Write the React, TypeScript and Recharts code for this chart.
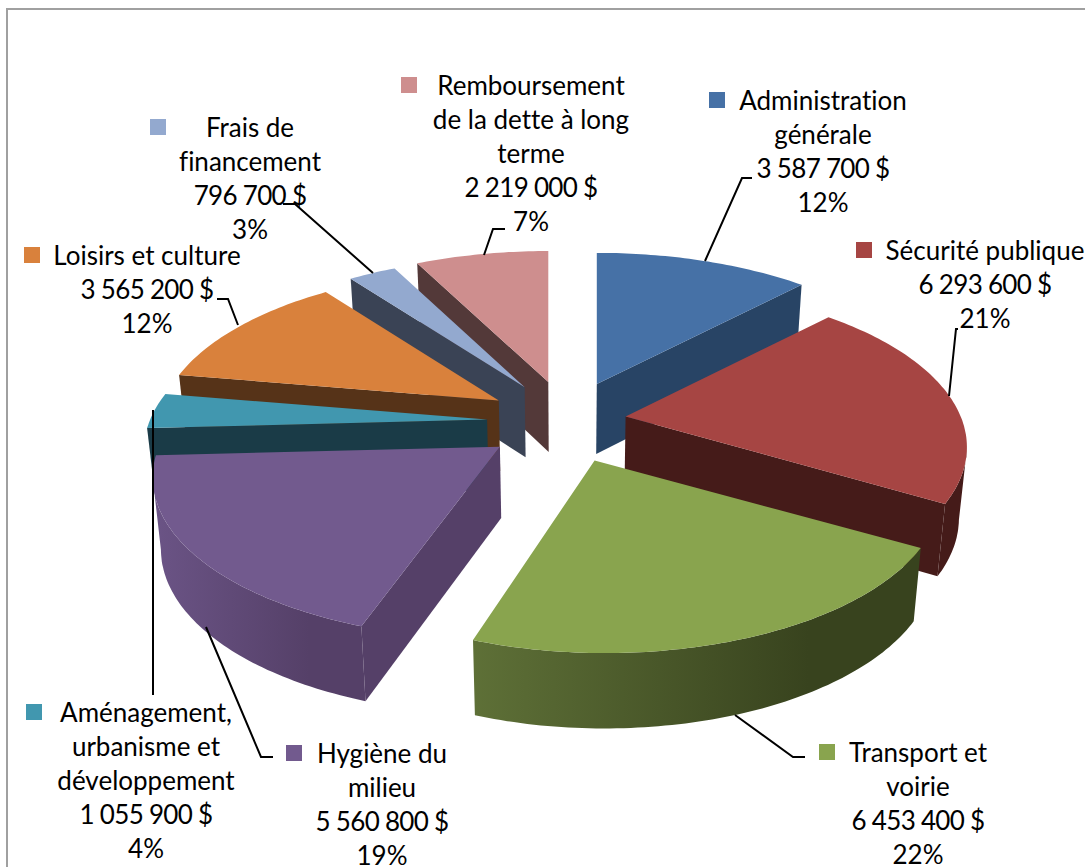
import { PieChart, Pie } from "recharts";

const categories = [
  "Administration générale",
  "Sécurité publique",
  "Transport et voirie",
  "Hygiène du milieu",
  "Aménagement, urbanisme et développement",
  "Loisirs et culture",
  "Frais de financement",
  "Remboursement de la dette à long terme",
];
const amounts = [3587700, 6293600, 6453400, 5560800, 1055900, 3565200, 796700, 2219000];
const percents = [12, 21, 22, 19, 4, 12, 3, 7];

const data = categories.map((name, i) => ({ name, value: amounts[i] }));

// back to front, so nearer slices cover the ones behind
const paintOrder = [7, 0, 6, 5, 1, 4, 3, 2];

const topColors = ["#4671A6", "#A64543", "#89A44E", "#725A8E", "#4197AF", "#D9813C", "#93A9CF", "#CE8E8E"];
const wallColors = ["#284465", "#451B19", "#38431E", "#554068", "#1A3B47", "#563318", "#3A4355", "#533939"];
const rimFrom = ["#284465", "#451B19", "#5E7037", "#6B5486", "#1A3B47", "#563318", "#3A4355", "#533939"];
const explodeX = [1, 0.74, 1, 1.05, 1, 1, 1, 1];
const rimShift = [0, -2, 10.5, -4, 0, 2, 1, 0];
const rimScale = [1, 1, 0.982, 1, 1, 1, 1, 1];

const wrapped = [
  ["Administration", "générale"],
  ["Sécurité publique"],
  ["Transport et", "voirie"],
  ["Hygiène du", "milieu"],
  ["Aménagement,", "urbanisme et", "développement"],
  ["Loisirs et culture"],
  ["Frais de", "financement"],
  ["Remboursement", "de la dette à long", "terme"],
];
// label centre x, first baseline y, swatch left x
const labelBoxes = [
  [823, 110, 709],
  [985, 260, 856],
  [918, 762, 819],
  [382, 763, 286],
  [146, 722, 26],
  [147, 265, 24],
  [250, 137, 150],
  [531, 95, 401],
];
const leaders = [
  "752,178 742,178 705,261",
  "958,329 956,329 949,396",
  "805,757 793,757 735,715",
  "273,757 261,757 206,627",
  "153,695 153,410",
  "217,299 228,299 238,325",
  "283,204 295,204 373,273",
  "505,229 493,229 484,255",
];

const CX = 567;
const CY = 422;
const RX = 337;
const RY = 156;
const PERSPECTIVE = 0.19;
const EXPLODE_Y = 41;
const LINE = 34;
const RAD = Math.PI / 180;

type P = { x: number; y: number };

function rimPoint(theta: number, c: P, rx: number, shift: number): P {
  const u = -Math.cos(theta * RAD);
  const d = 1 - PERSPECTIVE * u;
  return { x: c.x + shift + (rx * Math.sin(theta * RAD)) / d, y: c.y + (RY * u) / d };
}

// the underside of a point, pushed down by the pie's thickness
const lower = (p: P): P => ({ x: CX + (p.x - CX) * 0.98, y: p.y + 70 + (p.y - 384) * 0.02 });
const toPath = (pts: P[]) => "M" + pts.map((p) => `${p.x.toFixed(1)},${p.y.toFixed(1)}`).join("L") + "Z";

function Slice(props: any) {
  const i = categories.indexOf(props.name);
  const { cx, outerRadius } = props;
  // recharts angles run anticlockwise from east, here clockwise from north
  const t1 = 90 - props.startAngle;
  const t2 = 90 - props.endAngle;
  const mid = (t1 + t2) / 2;
  const apex = {
    x: cx + 80 * explodeX[i] * Math.sin(mid * RAD),
    y: props.cy - EXPLODE_Y * Math.cos(mid * RAD),
  };
  const arc: P[] = [];
  const steps = Math.max(8, Math.round(t2 - t1));
  for (let s = 0; s <= steps; s++) {
    arc.push(rimPoint(t1 + ((t2 - t1) * s) / steps, apex, outerRadius * rimScale[i], rimShift[i]));
  }

  const inner = arc[Math.floor(steps / 2)];
  const centre = { x: (apex.x + inner.x) / 2, y: (apex.y + inner.y) / 2 };
  const wallFacing = (a: P, b: P) => {
    let nx = -(b.y - a.y);
    let ny = b.x - a.x;
    if (nx * (centre.x - a.x) + ny * (centre.y - a.y) > 0) {
      nx = -nx;
      ny = -ny;
    }
    return ny > 0;
  };

  const walls = [arc[0], arc[steps]]
    .filter((p) => wallFacing(apex, p))
    .map((p) => toPath([apex, p, lower(p), lower(apex)]));

  const rim = arc.filter((_, s) => {
    const a = arc[Math.max(0, s - 1)];
    const b = arc[Math.min(steps, s + 1)];
    return wallFacing(a, b);
  });
  const xs = rim.map((p) => p.x);
  const left = Math.min(...xs);
  const right = Math.max(...xs);
  const gradId = `rim-${i}`;

  return (
    <g>
      <defs>
        <linearGradient id={gradId} gradientUnits="userSpaceOnUse" x1={left} x2={left + (right - left) * 0.75} y1={0} y2={0}>
          <stop offset="0" stopColor={rimFrom[i]} />
          <stop offset="1" stopColor={wallColors[i]} />
        </linearGradient>
      </defs>
      {walls.map((d, k) => (
        <path key={k} d={d} fill={wallColors[i]} />
      ))}
      {rim.length > 1 && <path d={toPath([...rim, ...rim.map(lower).reverse()])} fill={`url(#${gradId})`} />}
      <path d={toPath([apex, ...arc])} fill={topColors[i]} />
    </g>
  );
}

function SliceLabel(props: any) {
  const i = categories.indexOf(props.name);
  const [x, y, swatch] = labelBoxes[i];
  const money = String(props.value).replace(/\B(?=(\d{3})+$)/g, " ") + " $";
  const names = wrapped[i];
  return (
    <g>
      <polyline points={leaders[i]} fill="none" stroke="#000" strokeWidth={2} />
      <rect x={swatch} y={y - 18} width={16} height={16} fill={topColors[i]} />
      <text
        x={x}
        y={y}
        textAnchor="middle"
        fill="#000"
        fontSize={26}
        fontFamily="Lato, sans-serif"
        style={{ fontVariantLigatures: "none" }}
      >
        {names.map((t, k) => (
          <tspan key={k} x={x} y={y + k * LINE}>
            {t}
          </tspan>
        ))}
        <tspan x={x} y={y + names.length * LINE} letterSpacing={-0.7}>
          {money}
        </tspan>
        <tspan x={x} y={y + (names.length + 1) * LINE}>
          {percents[i]}%
        </tspan>
      </text>
    </g>
  );
}

export default function App() {
  return (
    <div style={{ position: "fixed", left: 0, top: 0, width: 1085, height: 867, overflow: "hidden", background: "#fff" }}>
      <div style={{ position: "absolute", left: 6, top: 8, width: 1079, height: 859, borderLeft: "2px solid #A0A0A0", borderTop: "2px solid #A0A0A0", boxSizing: "border-box" }} />
      <div style={{ position: "absolute", left: 0, top: 0 }}>
        <PieChart width={1085} height={867} margin={{ top: 0, right: 0, bottom: 0, left: 0 }}>
          {paintOrder.map((idx, n) => (
            <Pie
              key={idx}
              data={data}
              dataKey="value"
              nameKey="name"
              cx={CX}
              cy={CY}
              innerRadius={0}
              outerRadius={RX}
              startAngle={90}
              endAngle={-270}
              stroke="none"
              isAnimationActive={false}
              shape={(p: any) => (p.name === categories[idx] ? <Slice {...p} /> : <g />)}
              label={n === paintOrder.length - 1 ? (p: any) => <SliceLabel {...p} /> : false}
              labelLine={false}
            />
          ))}
        </PieChart>
      </div>
    </div>
  );
}
